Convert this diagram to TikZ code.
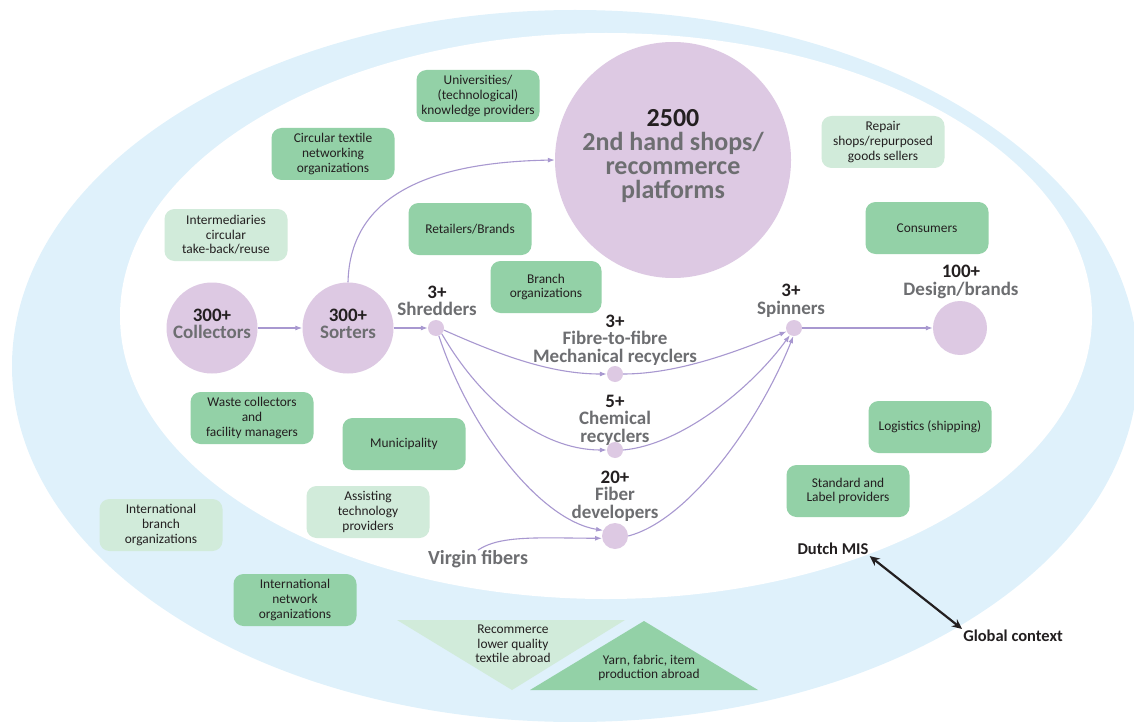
\documentclass[tikz,border=0pt]{standalone}
\usepackage{fontspec}
\setmainfont{Carlito}
\usetikzlibrary{arrows.meta}

\definecolor{ringblue}{HTML}{DFF1FB}
\definecolor{lilac}{HTML}{DDC9E3}
\definecolor{midgreen}{HTML}{93D1A7}
\definecolor{palegreen}{HTML}{D1EBDA}
\definecolor{flow}{HTML}{A898D0}
\definecolor{ink}{HTML}{231F20}
\definecolor{slate}{HTML}{6D6E71}

\tikzset{
  actor/.style={rounded corners=10pt, minimum width=123pt, minimum height=52pt,
    inner sep=0pt, align=center, text=ink, font=\fontsize{13.4}{14.6}\selectfont},
  core/.style={actor, fill=midgreen},
  side/.style={actor, fill=palegreen},
  hub/.style={circle, fill=lilac, inner sep=0pt},
  count/.style={align=center, text=slate, inner sep=0pt,
    font=\bfseries\fontsize{19}{17.5}\selectfont},
  abroad/.style={align=center, text=ink, inner sep=0pt,
    font=\fontsize{13.4}{14.6}\selectfont},
  scope label/.style={text=ink, inner sep=1pt, font=\bfseries\fontsize{16.5}{18}\selectfont},
  flowline/.style={draw=flow, line width=1.1pt, -{Latex[length=7pt,width=5pt]}},
}

\begin{document}
\begin{tikzpicture}[x=1pt,y=-1pt]
\useasboundingbox (0,0) rectangle (1134,722);

% global ring and national core
\begin{scope}
  \clip (0,0) rectangle (1134,722);
  \fill[ringblue] (575,366) ellipse [x radius=563pt, y radius=356pt];
  \fill[white] (606,316) ellipse [x radius=486pt, y radius=283pt];
\end{scope}

% production and trade abroad
\fill[palegreen] (397,620) -- (625,620) -- (512,690) -- cycle;
\fill[midgreen] (644,621) -- (758,690) -- (530,690) -- cycle;
\node[abroad] (recomA) at (513,644) {Recommerce\\lower quality\\textile abroad};
\node[abroad] (yarnA) at (649,668) {Yarn, fabric, item\\production abroad};

% supporting actors
\node[core] (univ) at (478,96) {Universities/\\(technological)\\knowledge providers};
\node[core] (ctnet) at (333,154) {Circular textile\\networking\\organizations};
\node[side] (inter) at (226,235) {Intermediaries\\circular\\take-back/reuse};
\node[core] (retail) at (470,229) {Retailers/Brands};
\node[core, minimum width=111pt] (branch) at (546,287) {Branch\\organizations};
\node[side] (repair) at (883,142) {Repair\\shops/repurposed\\goods sellers};
\node[core] (cons) at (927,228) {Consumers};
\node[core] (waste) at (252,418) {Waste collectors\\and\\facility managers};
\node[core] (munic) at (404,444) {Municipality};
\node[core] (logi) at (930,427) {Logistics (shipping)};
\node[core] (stand) at (848,491) {Standard and\\Label providers};
\node[side] (assist) at (368,512) {Assisting\\technology\\providers};
\node[side] (intbr) at (161,525) {International\\branch\\organizations};
\node[core] (intnet) at (295,600) {International\\network\\organizations};

% value chain hubs
\node[hub, minimum size=91pt] (coll) at (212,328) {};
\node[hub, minimum size=91pt] (sort) at (348,328) {};
\node[hub, minimum size=16pt] (shred) at (436,328) {};
\node[hub, minimum size=236pt] (shops) at (673,160) {};
\node[hub, minimum size=16pt] (mech) at (615,374) {};
\node[hub, minimum size=16pt] (chem) at (615,450) {};
\node[hub, minimum size=26pt] (fibdev) at (615,536) {};
\node[hub, minimum size=16pt] (spin) at (794,328) {};
\node[hub, minimum size=54pt] (design) at (960,328) {};

% hub labels
\node[count] (collL) at (212,324) {{\color{ink}300+}\\Collectors};
\node[count] (sortL) at (348,324) {{\color{ink}300+}\\Sorters};
\node[count] (shredL) at (437,301) {{\color{ink}3+}\\Shredders};
\node[count, font=\bfseries\fontsize{26}{24}\selectfont] (shopsL) at (673,156)
  {{\color{ink}2500}\\2nd hand shops/\\recommerce\\platforms};
\node[count] (mechL) at (615,340) {{\color{ink}3+}\\Fibre-to-fibre\\Mechanical recyclers};
\node[count] (chemL) at (615,420) {{\color{ink}5+}\\Chemical\\recyclers};
\node[count] (fibL) at (615,496) {{\color{ink}20+}\\Fiber\\developers};
\node[count] (spinL) at (791,301) {{\color{ink}3+}\\Spinners};
\node[count] (designL) at (961,282) {{\color{ink}100+}\\Design/brands};
\node[count, font=\bfseries\fontsize{20}{18}\selectfont] (virgin) at (478,559) {Virgin fibers};

% material flows
\draw[flowline] (coll.east) -- (sort.west);
\draw[flowline] (sort.east) -- (shred.west);
\draw[flowline] (sort.north) .. controls (350,190) and (440,162) .. (shops.west);
\draw[flowline] (shred.-15) .. controls (500,355) and (550,374) .. (mech.west);
\draw[flowline] (shred.-45) .. controls (480,400) and (540,450) .. (chem.west);
\draw[flowline] (shred.-70) .. controls (470,430) and (540,520) .. (fibdev.155);
\draw[flowline] (virgin.north) .. controls (500,535) and (540,538) .. (fibdev.190);
\draw[flowline] (mech.east) .. controls (680,374) and (740,350) .. (spin.205);
\draw[flowline] (chem.east) .. controls (680,445) and (750,390) .. (spin.240);
\draw[flowline] (fibdev.east) .. controls (690,520) and (760,420) .. (spin.265);
\draw[flowline] (spin.east) -- (design.west);

% national system versus global context
\node[scope label] (dutch) at (833,549) {Dutch MIS};
\node[scope label] (global) at (1013,636) {Global context};
\draw[ink, line width=2.2pt, {Stealth[length=10pt,width=9pt]}-{Stealth[length=10pt,width=9pt]}]
  (dutch.south east) -- (global.north west);
\end{tikzpicture}
\end{document}
